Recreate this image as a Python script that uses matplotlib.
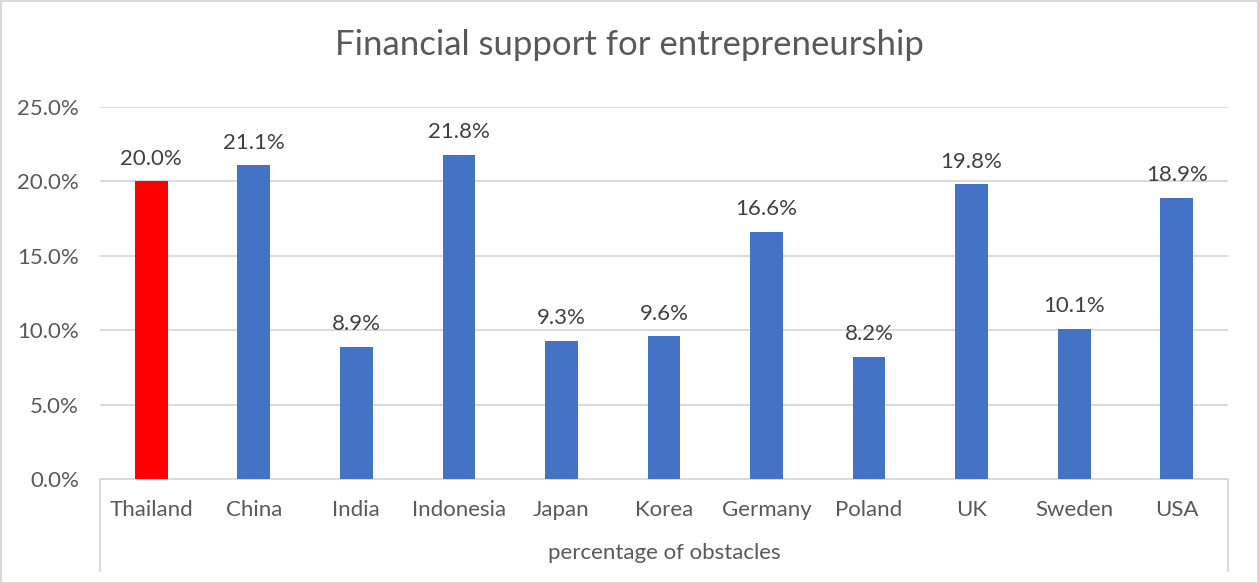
import matplotlib.pyplot as plt
from matplotlib.lines import Line2D
from matplotlib.patches import Rectangle
import matplotlib.ticker as ticker

plt.rcParams['font.family'] = ['Lato', 'DejaVu Sans']

countries = ['Thailand', 'China', 'India', 'Indonesia', 'Japan', 'Korea',
             'Germany', 'Poland', 'UK', 'Sweden', 'USA']
obstacles = [20.0, 21.1, 8.9, 21.8, 9.3, 9.6, 16.6, 8.2, 19.8, 10.1, 18.9]
highlight = 'Thailand'

text_col = '#595959'
grid_col = '#d9d9d9'

W, H = 1259, 583
fig = plt.figure(figsize=(W / 100, H / 100), dpi=100)
ax = fig.add_axes([100 / W, 104 / H, 1128 / W, 372 / H])

colors = ['#ff0000' if c == highlight else '#4472c4' for c in countries]
x = range(len(countries))
bars = ax.bar(x, obstacles, width=0.32, color=colors, zorder=3)

for rect, v in zip(bars, obstacles):
    ax.annotate(f'{v:.1f}%', (rect.get_x() + rect.get_width() / 2, v),
                xytext=(0, 9), textcoords='offset points',
                ha='center', va='bottom', fontsize=16, color='#404040')

ax.set_xlim(-0.5, len(countries) - 0.5)
ax.set_ylim(0, 25)
ax.yaxis.set_major_locator(ticker.MultipleLocator(5))
ax.yaxis.set_major_formatter(ticker.FuncFormatter(lambda v, p: f'{v:.1f}%'))
ax.set_xticks(list(x))
ax.set_xticklabels(countries)
ax.tick_params(axis='both', length=0, labelsize=16, labelcolor=text_col)
ax.tick_params(axis='x', pad=15)
ax.tick_params(axis='y', pad=15)
ax.grid(axis='y', color=grid_col, linewidth=1.3, zorder=0)
for s in ['top', 'right', 'left']:
    ax.spines[s].set_visible(False)
ax.spines['bottom'].set_color(grid_col)
ax.spines['bottom'].set_linewidth(1.3)

# category group box below the axis
for xp in (100, 1228):
    fig.add_artist(Line2D([xp / W, xp / W], [1 - 479 / H, 1 - 571 / H],
                          color=grid_col, linewidth=1.3))

fig.text(664 / W, 1 - 553 / H, 'percentage of obstacles', ha='center',
         va='center', fontsize=16, color=text_col)
fig.text(629 / W, 1 - 45 / H, 'Financial support for entrepreneurship',
         ha='center', va='center', fontsize=25, color=text_col)

# outer chart border
fig.add_artist(Rectangle((0.5 / W, 0.5 / H), 1 - 1.5 / W, 1 - 1.5 / H,
                         transform=fig.transFigure, fill=False,
                         edgecolor=grid_col, linewidth=1.5))

fig.savefig('out.png', dpi=100)
